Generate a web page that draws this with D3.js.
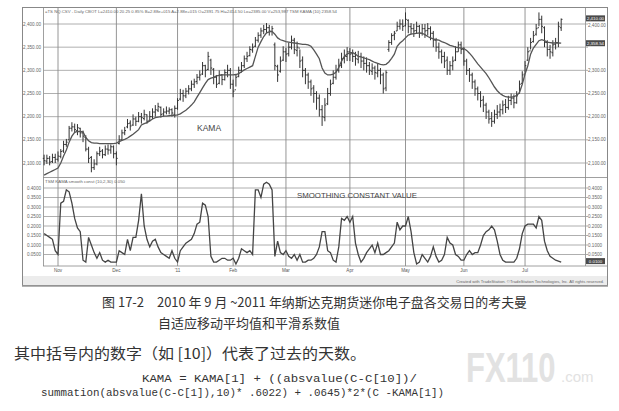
<!DOCTYPE html>
<html><head><meta charset="utf-8">
<script src="https://cdn.jsdelivr.net/npm/d3@7"></script>
<style>body{margin:0;background:#fff;} svg{display:block}</style>
</head><body>
<svg id="c" width="619" height="411"></svg>
<script>
// ---------------- data ----------------
const monthLabels = ["Nov","Dec","'11","Feb","Mar","Apr","May","Jun","Jul"];
const monthStartIndex = [5,26,48,68,87,110,130,151,173];
const priceTicks = [2100,2150,2200,2250,2300,2350,2400];
const scTicks = [0.05,0.10,0.15,0.20,0.25,0.30,0.35,0.40];

const open = [2110,2104,2110,2103,2112,2108,2114,2126,2140,2150,2175,2178,2170,2175,2165,2155,2130,2112,2090,2098,
2120,2126,2118,2130,2128,2135,2120,2142,2150,2165,2178,2186,2182,2195,2190,2200,2196,2204,2192,2200,
2210,2214,2220,2206,2210,2212,2215,2205,2218,2238,2250,2245,2255,2260,2270,2276,2285,2292,2310,2302,
2322,2302,2285,2272,2290,2280,2295,2300,2270,2258,2287,2300,2310,2325,2332,2344,2352,2365,2376,2385,
2388,2392,2384,2355,2308,2298,2322,2340,2336,2350,2365,2343,2348,2322,2300,2290,2275,2262,2250,2240,
2215,2198,2228,2250,2272,2285,2300,2310,2326,2330,2340,2336,2330,2324,2330,2320,2315,2310,2298,2305,
2294,2300,2290,2262,2345,2360,2376,2385,2395,2400,2396,2408,2394,2390,2386,2395,2380,2390,2386,2390,
2380,2365,2350,2340,2330,2322,2300,2310,2322,2340,2355,2345,2320,2300,2290,2275,2260,2250,2236,2225,
2210,2196,2190,2205,2210,2215,2226,2220,2235,2240,2230,2250,2272,2292,2322,2342,2362,2378,2392,2410,
2392,2360,2345,2338,2356,2360,2392];
const high = [2118,2118,2115,2120,2120,2125,2130,2148,2152,2180,2188,2185,2184,2176,2170,2160,2135,2115,2108,2125,
2135,2130,2138,2140,2140,2138,2125,2160,2172,2178,2195,2192,2205,2200,2210,2208,2215,2205,2212,2218,
2225,2230,2222,2218,2222,2220,2218,2224,2240,2260,2258,2262,2268,2278,2282,2292,2300,2318,2312,2340,
2325,2305,2290,2300,2292,2302,2312,2305,2280,2292,2308,2318,2332,2340,2352,2358,2372,2382,2392,2398,
2402,2398,2396,2360,2312,2330,2352,2348,2360,2375,2370,2362,2345,2330,2305,2295,2280,2268,2255,2248,
2225,2240,2262,2280,2300,2312,2325,2338,2345,2350,2348,2345,2340,2342,2338,2330,2328,2318,2315,2310,
2315,2305,2295,2300,2365,2380,2385,2405,2410,2410,2425,2410,2402,2400,2405,2398,2400,2400,2402,2395,
2385,2370,2360,2345,2340,2330,2320,2330,2352,2362,2362,2350,2325,2305,2295,2280,2265,2255,2245,2230,
2215,2210,2215,2225,2228,2235,2238,2245,2250,2248,2255,2278,2298,2320,2350,2370,2385,2400,2425,2418,
2395,2365,2355,2365,2370,2405,2412];
const low = [2095,2098,2095,2100,2100,2103,2110,2122,2135,2150,2168,2165,2160,2155,2145,2125,2100,2080,2085,2095,
2115,2110,2115,2118,2120,2110,2095,2140,2148,2160,2175,2170,2180,2180,2188,2185,2192,2185,2190,2195,
2200,2210,2198,2200,2205,2205,2200,2198,2215,2235,2232,2240,2248,2255,2262,2270,2278,2290,2285,2300,
2290,2270,2262,2270,2268,2278,2285,2260,2242,2265,2285,2295,2305,2318,2330,2338,2350,2360,2370,2378,
2380,2375,2375,2300,2275,2295,2320,2318,2330,2345,2335,2330,2305,2285,2270,2260,2245,2230,2215,2200,
2180,2190,2225,2245,2270,2280,2295,2305,2315,2320,2320,2318,2310,2315,2305,2300,2295,2290,2290,2280,
2285,2270,2250,2255,2340,2355,2365,2385,2388,2385,2395,2380,2378,2372,2380,2370,2375,2370,2375,2365,
2350,2340,2325,2315,2305,2290,2290,2300,2320,2340,2335,2310,2290,2275,2260,2245,2235,2220,2210,2195,
2185,2178,2185,2195,2200,2205,2208,2215,2225,2218,2228,2250,2270,2295,2320,2345,2360,2375,2395,2380,
2350,2330,2325,2330,2345,2350,2385];
const close = [2105,2110,2102,2112,2108,2115,2125,2140,2145,2175,2178,2172,2176,2165,2158,2130,2110,2090,2098,2120,
2125,2118,2130,2128,2135,2120,2110,2150,2165,2170,2185,2180,2195,2190,2200,2198,2205,2190,2200,2210,
2215,2222,2205,2210,2212,2215,2208,2218,2235,2250,2245,2255,2260,2270,2275,2285,2290,2310,2300,2330,
2305,2285,2270,2290,2280,2295,2300,2270,2255,2285,2300,2310,2325,2330,2345,2350,2365,2375,2385,2388,
2392,2385,2390,2310,2290,2320,2340,2335,2350,2365,2345,2350,2320,2300,2290,2275,2260,2250,2240,2215,
2200,2225,2250,2270,2285,2300,2310,2325,2330,2340,2335,2330,2325,2330,2320,2315,2310,2300,2305,2295,
2300,2290,2260,2295,2360,2375,2380,2395,2400,2395,2410,2395,2390,2385,2395,2380,2390,2385,2390,2380,
2365,2350,2340,2330,2320,2300,2310,2320,2340,2355,2345,2320,2300,2290,2275,2260,2250,2235,2225,2210,
2195,2190,2205,2210,2215,2225,2220,2235,2240,2230,2245,2270,2290,2310,2340,2360,2375,2390,2410,2395,
2360,2345,2340,2355,2360,2395,2410];
const kama = [2074,2077,2080,2083,2086,2089,2100,2115,2128,2145,2158,2166,2168,2168,2167,2155,2148,2144,2143,2143,
2142,2142,2142,2142,2142,2142,2143,2146,2149,2151,2154,2158,2162,2167,2172,2182,2185,2187,2191,2195,
2198,2199,2200,2201,2201,2202,2203,2203,2204,2206,2210,2214,2219,2225,2232,2242,2252,2262,2272,2280,
2283,2285,2288,2289,2290,2290,2290,2290,2290,2291,2293,2297,2301,2304,2307,2310,2330,2350,2362,2373,
2381,2383,2384,2378,2370,2366,2364,2362,2361,2360,2359,2358,2357,2356,2356,2355,2352,2344,2335,2325,
2305,2294,2290,2290,2292,2296,2306,2320,2330,2335,2338,2338,2335,2330,2329,2327,2325,2323,2320,2317,
2315,2313,2312,2313,2318,2326,2335,2352,2359,2364,2370,2376,2378,2379,2380,2381,2380,2377,2373,2370,
2368,2366,2365,2362,2360,2357,2354,2352,2350,2349,2348,2347,2343,2337,2330,2322,2314,2307,2300,2293,
2284,2274,2264,2256,2250,2246,2243,2242,2242,2243,2246,2252,2270,2292,2310,2335,2348,2356,2364,2366,
2364,2361,2360,2359,2359,2359,2358.54];
const smoothConst = [0.16,0.15,0.14,0.13,0.07,0.05,0.32,0.33,0.39,0.38,0.32,0.24,0.19,0.17,0.02,0.01,0.14,0.10,0.06,0.03,
0.06,0.02,0.01,0.02,0.01,0.01,0.01,0.07,0.06,0.05,0.13,0.07,0.14,0.14,0.23,0.37,0.20,0.13,0.09,0.12,
0.13,0.09,0.06,0.05,0.04,0.03,0.07,0.03,0.01,0.07,0.09,0.11,0.12,0.13,0.16,0.21,0.22,0.32,0.31,0.25,
0.04,0.01,0.01,0.02,0.03,0.03,0.02,0.02,0.03,0.00,0.03,0.08,0.07,0.06,0.07,0.05,0.39,0.39,0.35,0.42,
0.43,0.42,0.39,0.04,0.12,0.06,0.05,0.07,0.04,0.03,0.05,0.02,0.05,0.01,0.01,0.02,0.02,0.03,0.05,0.09,
0.17,0.17,0.07,0.06,0.02,0.01,0.09,0.24,0.23,0.25,0.22,0.25,0.11,0.05,0.01,0.03,0.06,0.08,0.10,0.06,
0.11,0.05,0.05,0.06,0.07,0.09,0.11,0.22,0.18,0.20,0.20,0.25,0.17,0.06,0.00,0.01,0.05,0.03,0.01,0.04,
0.09,0.04,0.01,0.02,0.05,0.14,0.11,0.10,0.05,0.04,0.02,0.02,0.05,0.07,0.05,0.06,0.06,0.10,0.15,0.17,
0.18,0.20,0.18,0.12,0.05,0.02,0.01,0.01,0.01,0.01,0.03,0.08,0.16,0.20,0.21,0.21,0.21,0.19,0.25,0.23,
0.12,0.07,0.04,0.03,0.02,0.015,0.01];

// ---------------- drawing ----------------
const svg = d3.select("#c");
const n = close.length;
const F = "Liberation Sans, Arial, sans-serif";
const gridC = "#9a9a9a", inkC = "#333";

const x = d3.scaleLinear().domain([0,195]).range([44.1,586.2]);
const yP = d3.scaleLinear().domain([2100,2400]).range([163,24]);
const yS = d3.scaleLinear().domain([0,0.4]).range([264,188]);

const plotL = 43, plotR = 585;

svg.append("rect").attr("x",22.5).attr("y",7.5).attr("width",585).attr("height",278)
  .attr("fill","#fff").attr("stroke","#888").attr("stroke-width",1);
svg.append("rect").attr("x",23).attr("y",276).attr("width",584).attr("height",9).attr("fill","#ececec");
svg.append("line").attr("x1",22).attr("x2",608).attr("y1",286).attr("y2",286).attr("stroke","#999").attr("stroke-width",1.5);

[plotL, plotR].forEach(v => svg.append("line").attr("x1",v+0.5).attr("x2",v+0.5).attr("y1",8).attr("y2",266)
  .attr("stroke","#888").attr("stroke-width",0.8));

svg.append("line").attr("x1",plotL).attr("x2",607).attr("y1",177.5).attr("y2",177.5).attr("stroke","#888").attr("stroke-width",0.8);
svg.append("line").attr("x1",plotL).attr("x2",607).attr("y1",266).attr("y2",266).attr("stroke","#888").attr("stroke-width",0.8);

const gP = svg.append("g");
priceTicks.forEach(t => {
  gP.append("line").attr("x1",plotL).attr("x2",plotR+3).attr("y1",yP(t)).attr("y2",yP(t))
    .attr("stroke",gridC).attr("stroke-width",0.8);
});
scTicks.forEach(t => {
  gP.append("line").attr("x1",plotL).attr("x2",plotR+3).attr("y1",yS(t)).attr("y2",yS(t))
    .attr("stroke",gridC).attr("stroke-width",0.8);
});
monthStartIndex.forEach(i => {
  gP.append("line").attr("x1",x(i)).attr("x2",x(i)).attr("y1",8).attr("y2",266)
    .attr("stroke","#8a8a8a").attr("stroke-width",0.9);
});

const fmtP = d3.format(",.2f"), fmtS = d3.format(".4f");
priceTicks.forEach(t => {
  svg.append("text").attr("x",41).attr("y",yP(t)+1.6).attr("text-anchor","end")
    .attr("font-family",F).attr("font-size",4.6).attr("fill","#666").text(fmtP(t));
  if (t <= 2300)
    svg.append("text").attr("x",588).attr("y",yP(t)+1.6)
      .attr("font-family",F).attr("font-size",4.6).attr("fill","#666").text(fmtP(t));
});
svg.append("text").attr("x",588).attr("y",yP(2400)+3.2)
  .attr("font-family",F).attr("font-size",4.6).attr("fill","#666").text(fmtP(2400));
scTicks.forEach(t => {
  svg.append("text").attr("x",41).attr("y",yS(t)+1.6).attr("text-anchor","end")
    .attr("font-family",F).attr("font-size",4.6).attr("fill","#666").text(fmtS(t));
  svg.append("text").attr("x",588).attr("y",yS(t)+1.6)
    .attr("font-family",F).attr("font-size",4.6).attr("fill","#666").text(fmtS(t));
});

function valBox(yv, label) {
  svg.append("rect").attr("x",586).attr("y",yv-3).attr("width",19).attr("height",6).attr("fill","#4a4a4a");
  svg.append("text").attr("x",595.5).attr("y",yv+1.6).attr("text-anchor","middle")
    .attr("font-family",F).attr("font-size",4.4).attr("fill","#fff").text(label);
}
valBox(yP(close[n-1]) - 1, fmtP(close[n-1]));
valBox(yP(kama[n-1]), fmtP(kama[n-1]));
valBox(yS(smoothConst[n-1]) - 1, fmtS(smoothConst[n-1]));

monthStartIndex.forEach((i,k) => {
  svg.append("text").attr("x",x(i)).attr("y",271.5).attr("text-anchor","middle")
    .attr("font-family",F).attr("font-size",4.6).attr("fill","#555").text(monthLabels[k]);
});

svg.append("text").attr("x",45).attr("y",12.5).attr("font-family",F).attr("font-size",4.4).attr("fill","#666")
  .attr("textLength",292).attr("lengthAdjust","spacingAndGlyphs")
  .text("=TS NQ.CSV - Daily  CBOT  L=2410.00  20.25  0.85%  B=2.88e+015  A=2.88e+015  O=2391.75  Hi=2414.50  Lo=2385.00  V=253,987   TSM KAMA (10)  2358.54");
svg.append("text").attr("x",45).attr("y",183).attr("font-family",F).attr("font-size",4.4).attr("fill","#666")
  .attr("textLength",80).attr("lengthAdjust","spacingAndGlyphs")
  .text("TSM KAMA smooth const (10,2,30)   0.050");
svg.append("text").attr("x",604).attr("y",283).attr("text-anchor","end").attr("font-family",F).attr("font-size",4.2).attr("fill","#666")
  .text("Created with TradeStation. ©TradeStation Technologies, Inc. All rights reserved.");

const bars = svg.append("g").attr("stroke",inkC).attr("stroke-width",1);
d3.range(n).forEach(i => {
  bars.append("line").attr("x1",x(i)).attr("x2",x(i)).attr("y1",yP(high[i])).attr("y2",yP(low[i]));
  bars.append("line").attr("x1",x(i)-1.3).attr("x2",x(i)).attr("y1",yP(open[i])).attr("y2",yP(open[i]));
  bars.append("line").attr("x1",x(i)).attr("x2",x(i)+1.3).attr("y1",yP(close[i])).attr("y2",yP(close[i]));
});

svg.append("path").datum(kama).attr("fill","none").attr("stroke","#555").attr("stroke-width",1.3)
  .attr("d", d3.line().x((d,i)=>x(i)).y(d=>yP(d)));
svg.append("path").datum(smoothConst).attr("fill","none").attr("stroke","#444").attr("stroke-width",1.3)
  .attr("d", d3.line().x((d,i)=>x(i)).y(d=>yS(d)));

svg.append("text").attr("x",197).attr("y",131).attr("font-family",F).attr("font-size",8.5).attr("fill","#444").text("KAMA");
svg.append("text").attr("x",297).attr("y",198).attr("font-family",F).attr("font-size",8).attr("fill","#444")
  .attr("textLength",120).attr("lengthAdjust","spacingAndGlyphs").text("SMOOTHING CONSTANT VALUE");

const CJK = "Noto Sans CJK SC, sans-serif";
svg.append("text").attr("x",102).attr("y",307).attr("font-family",CJK).attr("font-size",13).attr("fill","#333").text("图 17-2");
svg.append("text").attr("x",157).attr("y",307).attr("font-family",CJK).attr("font-size",13).attr("fill","#333")
  .attr("textLength",370).attr("lengthAdjust","spacingAndGlyphs")
  .text("2010 年 9 月 ~2011 年纳斯达克期货迷你电子盘各交易日的考夫曼");
svg.append("text").attr("x",158).attr("y",328).attr("font-family",CJK).attr("font-size",13).attr("fill","#333")
  .attr("textLength",182).attr("lengthAdjust","spacingAndGlyphs")
  .text("自适应移动平均值和平滑系数值");

// watermark
svg.append("text").attr("transform","translate(466,382) scale(1,1.35)").attr("font-family",F)
  .attr("font-weight","bold").attr("font-size",31).attr("fill","#e2e2e2").text("FX110");
svg.append("text").attr("x",561).attr("y",382).attr("font-family",F).attr("font-size",15)
  .attr("fill","#e2e2e2").text(".com");

svg.append("text").attr("x",14).attr("y",359).attr("font-family",CJK).attr("font-size",15).attr("fill","#333")
  .attr("textLength",352).attr("lengthAdjust","spacingAndGlyphs")
  .text("其中括号内的数字（如 [10]）代表了过去的天数。");
const MONO = "Liberation Mono, Courier New, monospace";
svg.append("text").attr("x",142).attr("y",382).attr("font-family",MONO).attr("font-size",11).attr("fill","#333")
  .attr("textLength",275).attr("lengthAdjust","spacingAndGlyphs")
  .text("KAMA = KAMA[1] + ((absvalue(C-C[10])/");
svg.append("text").attr("x",41).attr("y",396).attr("font-family",MONO).attr("font-size",11).attr("fill","#333")
  .attr("textLength",403).attr("lengthAdjust","spacingAndGlyphs")
  .text("summation(absvalue(C-C[1]),10)* .6022) + .0645)*2*(C -KAMA[1])");
</script>
</body></html>
